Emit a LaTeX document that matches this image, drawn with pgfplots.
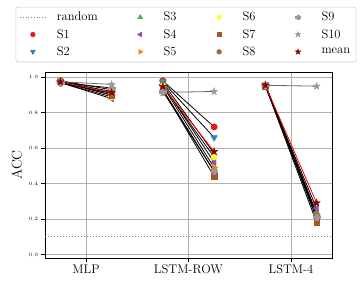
\documentclass[border=0pt]{standalone}
\usepackage{pgfplots}
\usepackage{pgfplotstable}
\pgfplotsset{compat=1.18}
\definecolor{S1c}{HTML}{E41A1C}
\definecolor{S2c}{HTML}{377EB8}
\definecolor{S3c}{HTML}{4DAF4A}
\definecolor{S4c}{HTML}{984EA3}
\definecolor{S5c}{HTML}{FF7F00}
\definecolor{S6c}{HTML}{FFFF33}
\definecolor{S7c}{HTML}{A65628}
\definecolor{S8c}{HTML}{AD6236}
\definecolor{S9c}{HTML}{999999}
\definecolor{S10c}{HTML}{999999}
\definecolor{meanc}{HTML}{8B0000}
\definecolor{gridc}{HTML}{B0B0B0}
\definecolor{legc}{HTML}{CCCCCC}
\pgfdeclareplotmark{fstar}{%
 \pgfpathmoveto{\pgfpointpolar{90}{\pgfplotmarksize}}%
 \pgfpathlineto{\pgfpointpolar{126}{0.382\pgfplotmarksize}}%
 \pgfpathlineto{\pgfpointpolar{162}{\pgfplotmarksize}}%
 \pgfpathlineto{\pgfpointpolar{198}{0.382\pgfplotmarksize}}%
 \pgfpathlineto{\pgfpointpolar{234}{\pgfplotmarksize}}%
 \pgfpathlineto{\pgfpointpolar{270}{0.382\pgfplotmarksize}}%
 \pgfpathlineto{\pgfpointpolar{306}{\pgfplotmarksize}}%
 \pgfpathlineto{\pgfpointpolar{342}{0.382\pgfplotmarksize}}%
 \pgfpathlineto{\pgfpointpolar{18}{\pgfplotmarksize}}%
 \pgfpathlineto{\pgfpointpolar{54}{0.382\pgfplotmarksize}}%
 \pgfpathclose\pgfusepathqfillstroke}
\pgfdeclareplotmark{hexagon*}{%
 \pgfpathmoveto{\pgfpointpolar{90}{\pgfplotmarksize}}%
 \pgfpathlineto{\pgfpointpolar{150}{\pgfplotmarksize}}%
 \pgfpathlineto{\pgfpointpolar{210}{\pgfplotmarksize}}%
 \pgfpathlineto{\pgfpointpolar{270}{\pgfplotmarksize}}%
 \pgfpathlineto{\pgfpointpolar{330}{\pgfplotmarksize}}%
 \pgfpathlineto{\pgfpointpolar{30}{\pgfplotmarksize}}%
 \pgfpathclose\pgfusepathqfillstroke}
\pgfdeclareplotmark{fplus}{%
 \pgfpathmoveto{\pgfpoint{0.36\pgfplotmarksize}{\pgfplotmarksize}}%
 \pgfpathlineto{\pgfpoint{-0.36\pgfplotmarksize}{\pgfplotmarksize}}%
 \pgfpathlineto{\pgfpoint{-0.36\pgfplotmarksize}{0.36\pgfplotmarksize}}%
 \pgfpathlineto{\pgfpoint{-\pgfplotmarksize}{0.36\pgfplotmarksize}}%
 \pgfpathlineto{\pgfpoint{-\pgfplotmarksize}{-0.36\pgfplotmarksize}}%
 \pgfpathlineto{\pgfpoint{-0.36\pgfplotmarksize}{-0.36\pgfplotmarksize}}%
 \pgfpathlineto{\pgfpoint{-0.36\pgfplotmarksize}{-\pgfplotmarksize}}%
 \pgfpathlineto{\pgfpoint{0.36\pgfplotmarksize}{-\pgfplotmarksize}}%
 \pgfpathlineto{\pgfpoint{0.36\pgfplotmarksize}{-0.36\pgfplotmarksize}}%
 \pgfpathlineto{\pgfpoint{\pgfplotmarksize}{-0.36\pgfplotmarksize}}%
 \pgfpathlineto{\pgfpoint{\pgfplotmarksize}{0.36\pgfplotmarksize}}%
 \pgfpathlineto{\pgfpoint{0.36\pgfplotmarksize}{0.36\pgfplotmarksize}}%
 \pgfpathclose\pgfusepathqfillstroke}

\pgfplotstableread{
x      S1    S2    S3    S4    S5    S6    S7    S8    S9    S10   mean
-0.25  0.980 0.980 0.975 0.970 0.975 0.970 0.975 0.970 0.970 0.975 0.974
0.25   0.930 0.910 0.920 0.880 0.900 0.890 0.900 0.910 0.940 0.960 0.914
0.5    nan   nan   nan   nan   nan   nan   nan   nan   nan   nan   nan
0.75   0.980 0.975 0.970 0.960 0.950 0.950 0.930 0.930 0.920 0.915 0.948
1.25   0.720 0.660 0.570 0.520 0.490 0.550 0.440 0.470 0.470 0.920 0.581
1.5    nan   nan   nan   nan   nan   nan   nan   nan   nan   nan   nan
1.75   0.955 0.960 0.955 0.950 0.955 0.955 0.950 0.955 0.955 0.955 0.955
2.25   0.220 0.210 0.235 0.260 0.225 0.200 0.180 0.220 0.210 0.950 0.291
}\data

\begin{document}
\begin{tikzpicture}
\useasboundingbox (-45pt,-24pt) rectangle (315pt,258pt);
\begin{axis}[
  scale only axis, width=287pt, height=186pt,
  xmin=-0.4, xmax=2.4, ymin=-0.02, ymax=1.03,
  unbounded coords=jump,
  xtick={0,1,2}, xticklabels={MLP,LSTM-ROW,LSTM-4},
  ytick={0,0.2,0.4,0.6,0.8,1.0},
  yticklabel style={font=\fontsize{5.5}{6}\selectfont, /pgf/number format/.cd,fixed,fixed zerofill,precision=1},
  xticklabel style={font=\fontsize{12.5}{14}\selectfont},
  ylabel={ACC}, ylabel style={font=\fontsize{14}{16}\selectfont},
  tick align=outside, xtick pos=bottom, ytick pos=left,
  major tick length=3.5pt,
  every tick/.style={black, line width=0.6pt},
  axis line style={line width=0.8pt},
  grid=major, major grid style={gridc, line width=0.8pt},
  legend columns=4,
  legend cell align=left,
  legend image code/.code={\path[draw=none,fill=none] (0pt,-4pt) (25pt,4pt);
     \draw[mark repeat=2,mark phase=2,#1] plot coordinates {(0pt,0pt)(12.5pt,0pt)(25pt,0pt)};},
  legend style={at={(0.4913,1.2016)}, anchor=center, draw=legc, rounded corners=2pt,
    line width=0.6pt, font=\fontsize{12.5}{14}\selectfont, row sep=3pt,
    inner xsep=4pt, inner ysep=3pt,
    /tikz/every odd column/.append style={column sep=9pt},
    /tikz/every even column/.append style={column sep=28pt}},
]
% random baseline
\addplot[forget plot, gray, line width=1.2pt, dash pattern=on 1.2pt off 1.8pt] coordinates {(-0.4,0.1) (2.4,0.1)};
% connecting lines
\foreach \s in {S1,S2,S3,S4,S5,S6,S7,S8,S9}{
  \addplot[forget plot, black, line width=0.8pt, mark=none] table[x=x,y=\s] {\data};
}
\addplot[forget plot, black!60, line width=0.8pt, mark=none] table[x=x,y=S10] {\data};
\addplot[forget plot, red, line width=0.8pt, mark=none] table[x=x,y=mean] {\data};
% markers
\addplot[forget plot, only marks, S1c, mark=*, mark size=3.2pt] table[x=x,y=S1] {\data};
\addplot[forget plot, only marks, S2c, mark=triangle*, mark size=3.8pt, mark options={rotate=180}] table[x=x,y=S2] {\data};
\addplot[forget plot, only marks, S3c, mark=triangle*, mark size=3.8pt] table[x=x,y=S3] {\data};
\addplot[forget plot, only marks, S4c, mark=triangle*, mark size=3.8pt, mark options={rotate=90}] table[x=x,y=S4] {\data};
\addplot[forget plot, only marks, S5c, mark=triangle*, mark size=3.8pt, mark options={rotate=-90}] table[x=x,y=S5] {\data};
\addplot[forget plot, only marks, S6c, mark=*, mark size=3.2pt] table[x=x,y=S6] {\data};
\addplot[forget plot, only marks, S7c, mark=square*, mark size=2.9pt] table[x=x,y=S7] {\data};
\addplot[forget plot, only marks, S8c, mark=hexagon*, mark size=3.3pt] table[x=x,y=S8] {\data};
\addplot[forget plot, only marks, S9c, mark=fplus, mark size=3.4pt] table[x=x,y=S9] {\data};
\addplot[forget plot, only marks, S10c, mark=fstar, mark size=3.8pt] table[x=x,y=S10] {\data};
\addplot[forget plot, only marks, meanc, mark=fstar, mark size=3.8pt] table[x=x,y=mean] {\data};
% legend (row-major order to reproduce column-major layout)
\addlegendimage{gray, line width=1pt, dash pattern=on 1pt off 1.7pt}
\addlegendentry{random}
\addlegendimage{only marks, S3c, mark=triangle*, mark size=2.6pt}
\addlegendentry{S3}
\addlegendimage{only marks, S6c, mark=*, mark size=2.3pt}
\addlegendentry{S6}
\addlegendimage{only marks, S9c, mark=fplus, mark size=2.4pt}
\addlegendentry{S9}
\addlegendimage{only marks, S1c, mark=*, mark size=2.3pt}
\addlegendentry{S1}
\addlegendimage{only marks, S4c, mark=triangle*, mark size=2.6pt, mark options={rotate=90}}
\addlegendentry{S4}
\addlegendimage{only marks, S7c, mark=square*, mark size=2.1pt}
\addlegendentry{S7}
\addlegendimage{only marks, S10c, mark=fstar, mark size=2.7pt}
\addlegendentry{S10}
\addlegendimage{only marks, S2c, mark=triangle*, mark size=2.6pt, mark options={rotate=180}}
\addlegendentry{S2}
\addlegendimage{only marks, S5c, mark=triangle*, mark size=2.6pt, mark options={rotate=-90}}
\addlegendentry{S5}
\addlegendimage{only marks, S8c, mark=hexagon*, mark size=2.4pt}
\addlegendentry{S8}
\addlegendimage{only marks, meanc, mark=fstar, mark size=2.7pt}
\addlegendentry{mean}
\end{axis}
\end{tikzpicture}
\end{document}
